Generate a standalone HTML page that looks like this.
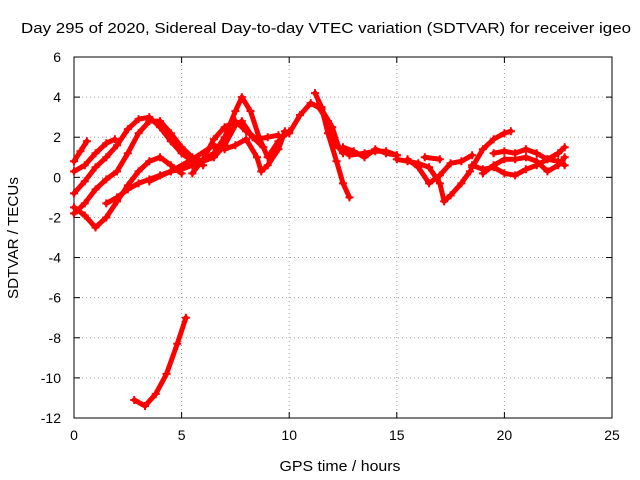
<!DOCTYPE html>
<html><head><meta charset="utf-8"><style>
body{margin:0;background:#fff}
svg{display:block;font-family:"Liberation Sans",sans-serif}
</style></head><body>
<svg id="chart" width="640" height="480">
<text x="326" y="33" font-size="15" text-anchor="middle" textLength="610" lengthAdjust="spacingAndGlyphs">Day 295 of 2020, Sidereal Day-to-day VTEC variation (SDTVAR) for receiver igeo</text>
<g id="grid"></g><g id="axes"></g><g id="series"></g>
<text x="340" y="471" font-size="15" text-anchor="middle" textLength="121" lengthAdjust="spacingAndGlyphs">GPS time / hours</text>
<text transform="translate(18,238) rotate(-90)" font-size="15" text-anchor="middle" textLength="122" lengthAdjust="spacingAndGlyphs">SDTVAR / TECUs</text>
</svg>
<script>
const xTicks=[0,5,10,15,20,25];
const yTicks=[6,4,2,0,-2,-4,-6,-8,-10,-12];
const trackA=[[0,0.8],[0.3,1.3],[0.6,1.8]];
const trackB=[[0,0.3],[0.5,0.6],[1,1.2],[1.5,1.7],[1.9,1.9]];
const trackC=[[0,-0.8],[0.5,-0.2],[1,0.5],[1.5,1.0],[2,1.6],[2.5,2.4],[3,2.9],[3.5,3.0],[4,2.5],[4.5,1.8],[5,1.2],[5.5,0.8],[6,0.6]];
const trackD=[[0,-1.8],[0.5,-1.3],[1,-0.6],[1.5,-0.1],[2,0.3],[2.5,1.2],[3,2.2],[3.5,2.8],[4,2.8],[4.5,2.2],[5,1.5],[5.5,1.0],[6,0.8],[6.5,1.0],[7,1.6],[7.5,2.6],[7.8,2.8],[8.3,2.0],[8.8,1.5]];
const trackE=[[0,-1.5],[0.5,-1.9],[1,-2.5],[1.5,-2.0],[2,-1.2],[2.5,-0.4],[3,0.3],[3.5,0.8],[4,1.0],[4.5,0.6],[5,0.2]];
const trackF=[[1.5,-1.3],[2,-1.0],[2.5,-0.6],[3,-0.3],[3.5,-0.1],[4,0.1],[4.5,0.3],[5,0.4],[5.5,0.6],[6,0.8],[6.5,1.2],[7,2.0],[7.5,3.3],[7.8,4.0],[8.2,3.3],[8.6,2.0],[9,1.0],[9.5,1.8],[10,2.3]];
const trackNeg=[[2.8,-11.1],[3.3,-11.4],[3.8,-10.8],[4.3,-9.8],[4.8,-8.3],[5.2,-7.0]];
const trackG=[[3.5,-0.2],[4.5,0.3],[5.5,0.9],[6.5,1.6],[7,1.4],[7.5,1.6],[8,1.9],[8.5,1.0],[8.7,0.3],[9,0.6],[9.5,1.4],[9.8,2.3]];
const trackH=[[5.5,0.2],[6,0.9],[6.5,1.9],[7,2.5],[7.5,2.8],[8,2.3],[8.5,1.9],[9,2.0],[9.5,2.1]];
const trackI=[[10,2.2],[10.5,3.1],[11,3.7],[11.5,3.4],[12,2.5],[12.3,1.5],[12.5,1.2]];
const trackJ=[[11.2,4.2],[11.5,3.5],[11.8,2.2],[12.2,0.8],[12.5,-0.3],[12.8,-1.0]];
const trackK=[[11.3,3.6],[11.8,2.8],[12.2,1.6],[12.8,1.1],[13.5,1.2],[14,1.3],[14.5,1.3],[15,1.1]];
const trackL=[[12.5,1.5],[13,1.3],[13.5,1.0],[14,1.4],[14.5,1.2],[15,1.1]];
const trackM=[[15,0.9],[15.5,0.8],[16,0.7],[16.5,0.5],[17,-0.3],[17.2,-1.2],[17.5,-0.9],[18,-0.3],[18.4,0.3]];
const trackN=[[15.5,0.9],[16,0.5],[16.5,-0.3],[17,0.1],[17.5,0.7],[18,0.8],[18.5,1.1]];
const trackO=[[16.3,1.0],[17,0.9]];
const trackP=[[18.5,0.5],[19,1.4],[19.5,1.9],[20,2.2],[20.3,2.3]];
const trackQ=[[18.5,0.6],[19,0.4],[19.5,0.5],[20,0.2],[20.5,0.1],[21,0.4],[21.5,0.6],[22,0.9],[22.5,1.2],[22.8,1.5]];
const trackR=[[19.5,1.2],[20,1.3],[20.5,1.2],[21,1.4],[21.5,1.2],[22,0.9],[22.5,0.8],[22.8,0.6]];
const trackS=[[19,0.2],[19.5,0.6],[20,0.9],[20.5,0.9],[21,1.0],[21.5,0.8],[22,0.3],[22.5,0.6],[22.8,1.0]];
const tracks=[trackA,trackB,trackC,trackD,trackE,trackF,trackNeg,trackG,trackH,trackI,trackJ,trackK,trackL,trackM,trackN,trackO,trackP,trackQ,trackR,trackS];

const L=74,R=612,T=57,B=418,xMin=0,xMax=25,yMin=-12,yMax=6;
const sx=v=>L+(v-xMin)/(xMax-xMin)*(R-L);
const sy=v=>B-(v-yMin)/(yMax-yMin)*(B-T);
const NS='http://www.w3.org/2000/svg';
function mk(tag,attrs,parent){const e=document.createElementNS(NS,tag);for(const k in attrs)e.setAttribute(k,attrs[k]);parent.appendChild(e);return e;}
const grid=document.getElementById('grid'),axes=document.getElementById('axes'),ser=document.getElementById('series');
xTicks.forEach(t=>{
  const x=sx(t);
  if(t>xMin&&t<xMax){const g=mk('line',{x1:x,x2:x,y1:T,y2:B,stroke:'#a0a0a0','stroke-dasharray':'1,3'},grid);
  
  }
  mk('line',{x1:x,x2:x,y1:B,y2:B-6,stroke:'#000'},axes);
  mk('line',{x1:x,x2:x,y1:T,y2:T+6,stroke:'#000'},axes);
  const tx=mk('text',{x:x,y:B+22,'font-size':14,'text-anchor':'middle'},axes);tx.textContent=t;
  
  
});
yTicks.forEach(t=>{
  const y=sy(t);
  if(t>yMin&&t<yMax){const g=mk('line',{x1:L,x2:R,y1:y,y2:y,stroke:'#a0a0a0','stroke-dasharray':'1,3'},grid);
  
  }
  mk('line',{x1:L,x2:L+6,y1:y,y2:y,stroke:'#000'},axes);
  mk('line',{x1:R,x2:R-6,y1:y,y2:y,stroke:'#000'},axes);
  const tx=mk('text',{x:L-13,y:y+5,'font-size':14,'text-anchor':'end'},axes);tx.textContent=t;
  
  
});
const fr=mk('rect',{x:L,y:T,width:R-L,height:B-T,fill:'none',stroke:'#000'},axes);


tracks.forEach(tr=>{
  const pl=mk('polyline',{points:tr.map(p=>sx(p[0])+','+sy(p[1])).join(' '),fill:'none',stroke:'#f00','stroke-width':5,'stroke-linejoin':'round','stroke-linecap':'round'},ser);
  
  
  tr.forEach(p=>{
    const x=sx(p[0]),y=sy(p[1]);
    const m=mk('path',{d:`M${x-4},${y}H${x+4}M${x},${y-4}V${y+4}`,stroke:'#f00','stroke-width':2},ser);
    
    
  });
});
</script>
</body></html>
